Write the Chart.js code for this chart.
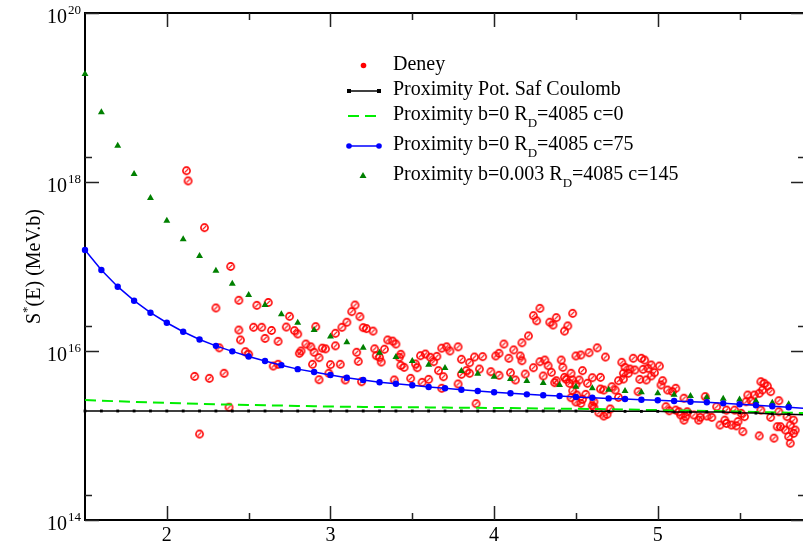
<!DOCTYPE html>
<html>
<head>
<meta charset="utf-8">
<script src="https://cdn.jsdelivr.net/npm/chart.js@4/dist/chart.umd.min.js"></script>
<style>
  html, body { margin: 0; padding: 0; background: #fff; }
  #wrap { width: 803px; height: 551px; }
</style>
</head>
<body>
<div id="wrap"><canvas id="chart" width="803" height="551"></canvas></div>
<script>
// model grid (E, step 0.1)
const gridX = [1.5,1.6,1.7,1.8,1.9,2.0,2.1,2.2,2.3,2.4,2.5,2.6,2.7,2.8,2.9,3.0,3.1,3.2,3.3,3.4,
  3.5,3.6,3.7,3.8,3.9,4.0,4.1,4.2,4.3,4.4,4.5,4.6,4.7,4.8,4.9,5.0,5.1,5.2,5.3,5.4,5.5,5.6,5.7,5.8,5.9];

const safCoulomb = [1.95e15,1.95e15,1.95e15,1.95e15,1.95e15,1.95e15,1.95e15,1.95e15,1.95e15,1.95e15,
  1.95e15,1.95e15,1.95e15,1.95e15,1.95e15,1.95e15,1.95e15,1.95e15,1.95e15,1.95e15,
  1.95e15,1.95e15,1.95e15,1.95e15,1.95e15,1.95e15,1.95e15,1.95e15,1.95e15,1.95e15,
  1.95e15,1.93e15,1.93e15,1.93e15,1.93e15,1.93e15,1.90e15,1.90e15,1.90e15,1.90e15,
  1.86e15,1.84e15,1.80e15,1.78e15,1.76e15];

const proxC0 = [2.63e15,2.58e15,2.54e15,2.50e15,2.46e15,2.43e15,2.40e15,2.37e15,2.34e15,2.32e15,
  2.30e15,2.28e15,2.26e15,2.24e15,2.22e15,2.20e15,2.19e15,2.18e15,2.17e15,2.165e15,
  2.16e15,2.15e15,2.14e15,2.13e15,2.125e15,2.12e15,2.11e15,2.10e15,2.09e15,2.08e15,
  2.07e15,2.06e15,2.04e15,2.03e15,2.01e15,2.00e15,1.98e15,1.97e15,1.95e15,1.94e15,
  1.92e15,1.90e15,1.88e15,1.86e15,1.84e15];

const proxC75 = [1.57e17,9.1e16,5.77e16,3.94e16,2.84e16,2.16e16,1.69e16,1.37e16,1.15e16,9.9e15,
  8.6e15,7.6e15,6.8e15,6.1e15,5.64e15,5.2e15,4.83e15,4.54e15,4.26e15,4.10e15,
  3.93e15,3.75e15,3.62e15,3.48e15,3.36e15,3.25e15,3.16e15,3.07e15,2.99e15,2.93e15,
  2.86e15,2.80e15,2.75e15,2.70e15,2.65e15,2.61e15,2.56e15,2.51e15,2.47e15,2.40e15,
  2.34e15,2.28e15,2.22e15,2.16e15,2.10e15];

// 1.5 .. 5.8
const proxC145 = [1.90e19,6.68e18,2.69e18,1.24e18,6.47e17,3.49e17,2.10e17,1.33e17,8.9e16,6.25e16,
  4.6e16,3.50e16,2.72e16,2.16e16,1.77e16,1.48e16,1.27e16,1.09e16,9.55e15,8.49e15,
  7.62e15,6.89e15,6.29e15,5.80e15,5.38e15,4.96e15,4.67e15,4.42e15,4.18e15,3.96e15,
  3.78e15,3.62e15,3.48e15,3.36e15,3.25e15,3.16e15,3.04e15,2.93e15,2.83e15,2.73e15,
  2.66e15,2.56e15,2.44e15,2.34e15];

// experimental points (Deney)
const deneyX = [2.12,2.13,2.17,2.20,2.23,2.26,2.30,2.32,2.35,2.38,
  2.39,2.44,2.44,2.45,2.48,2.50,2.53,2.55,2.58,2.60,
  2.62,2.64,2.65,2.68,2.68,2.73,2.75,2.78,2.80,2.81,
  2.82,2.85,2.88,2.89,2.90,2.91,2.93,2.93,2.95,2.97,
  2.99,3.00,3.03,3.03,3.06,3.07,3.09,3.10,3.13,3.15,
  3.16,3.17,3.18,3.19,3.20,3.22,3.26,3.27,3.28,3.30,
  3.31,3.33,3.35,3.38,3.39,3.40,3.42,3.43,3.43,3.45,
  3.49,3.52,3.53,3.55,3.56,3.58,3.60,3.61,3.63,3.65,
  3.66,3.68,3.68,3.69,3.71,3.73,3.78,3.78,3.80,3.80,
  3.83,3.85,3.85,3.88,3.89,3.91,3.93,3.98,4.01,4.03,
  4.03,4.06,4.09,4.10,4.12,4.13,4.16,4.17,4.17,4.19,
  4.21,4.24,4.24,4.26,4.28,4.28,4.30,4.31,4.33,4.34,
  4.35,4.36,4.37,4.38,4.38,4.41,4.42,4.43,4.43,4.44,
  4.45,4.46,4.47,4.47,4.48,4.48,4.48,4.50,4.50,4.50,
  4.505,4.52,4.53,4.53,4.54,4.54,4.56,4.57,4.58,4.60,
  4.60,4.61,4.61,4.63,4.64,4.65,4.65,4.67,4.67,4.68,
  4.69,4.71,4.72,4.74,4.76,4.76,4.78,4.79,4.79,4.80,
  4.82,4.83,4.85,4.86,4.88,4.89,4.90,4.91,4.92,4.93,
  4.94,4.96,4.96,4.98,5.01,5.02,5.03,5.05,5.07,5.09,
  5.11,5.11,5.14,5.16,5.16,5.18,5.22,5.26,5.29,5.30,
  5.33,5.36,5.38,5.41,5.42,5.45,5.47,5.48,5.49,5.51,
  5.52,5.54,5.55,5.57,5.62,5.62,5.63,5.63,5.64,5.65,
  5.67,5.69,5.69,5.71,5.73,5.74,5.75,5.78,5.80,5.81,
  5.81,5.83,5.84,5.06,5.13,5.17,5.25,5.42,5.53,5.59,
  5.74,5.79,5.83];
const deneyY = [1.36e18,1.03e18,5.0e15,1.04e15,2.88e17,4.75e15,3.23e16,1.09e16,5.45e15,2.16e15,
  1.0e17,3.98e16,1.77e16,1.35e16,9.8e15,9.14e15,1.91e16,3.47e16,1.91e16,1.41e16,
  3.75e16,1.75e16,6.64e15,1.30e16,6.96e15,1.92e16,2.57e16,1.74e16,1.59e16,9.4e15,
  1.0e16,1.21e16,1.12e16,6.96e15,9.66e15,1.94e16,4.57e15,8.34e15,1.08e16,1.06e16,
  5.45e15,6.89e15,1.62e16,1.15e16,6.96e15,1.91e16,4.54e15,2.19e16,2.92e16,3.50e16,
  9.66e15,7.55e15,2.55e16,4.33e15,1.89e16,1.84e16,1.72e16,1.06e16,8.80e15,8.42e15,
  7.41e15,1.05e16,1.35e16,1.31e16,4.54e15,1.21e16,8.42e15,9.14e15,6.77e15,6.41e15,
  4.75e15,7.02e15,6.34e15,8.80e15,4.26e15,9.21e15,4.62e15,8.42e15,7.47e15,8.65e15,
  5.85e15,3.62e15,1.08e16,4.96e15,1.12e16,1.0e16,4.07e15,1.12e16,7.98e15,5.30e15,
  5.85e15,5.45e15,7.27e15,8.49e15,2.38e15,6.12e15,8.57e15,5.69e15,8.73e15,9.4e15,
  5.16e15,1.21e16,8.20e15,5.53e15,1.03e16,4.54e15,8.73e15,1.25e16,7.67e15,5.34e15,
  1.51e16,2.62e16,6.34e15,2.28e16,7.47e15,3.20e16,5.06e15,7.82e15,6.70e15,2.19e16,
  5.60e15,2.03e16,4.22e15,2.48e16,4.45e15,7.82e15,6.41e15,4.88e15,1.72e16,4.62e15,
  1.98e16,4.15e15,2.80e15,5.45e15,4.54e15,3.39e15,2.79e16,4.03e15,8.73e15,2.49e15,
  3.01e15,4.54e15,8.97e15,2.40e15,5.85e15,2.68e15,3.07e15,4.15e15,9.55e15,4.83e15,
  2.25e15,2.51e15,2.16e15,1.09e16,1.86e15,3.55e15,4.88e15,1.70e15,3.45e15,8.49e15,
  1.78e15,2.06e15,3.78e15,3.45e15,4.45e15,2.83e15,7.35e15,5.45e15,4.66e15,6.41e15,
  5.45e15,6.12e15,8.20e15,5.96e15,3.30e15,4.62e15,8.20e15,6.07e15,7.82e15,4.54e15,
  6.24e15,5.06e15,6.83e15,5.53e15,6.64e15,3.96e15,4.45e15,2.19e15,1.96e15,3.30e15,
  3.62e15,2.00e15,1.75e15,1.52e15,2.76e15,1.91e15,1.75e15,1.64e15,2.88e15,1.70e15,
  1.64e15,2.19e15,1.33e15,1.52e15,2.00e15,1.33e15,2.00e15,1.30e15,1.46e15,1.83e15,
  1.11e15,2.51e15,3.01e15,2.58e15,3.16e15,0.99e15,4.33e15,2.00e15,3.45e15,4.15e15,
  3.85e15,3.30e15,1.64e15,0.93e15,1.27e15,2.58e15,1.27e15,1.16e15,0.97e15,0.81e15,
  1.33e15,1.52e15,1.16e15,3.45e15,1.91e15,1.67e15,1.52e15,1.39e15,1.67e15,3.01e15,
  1.91e15,1.67e15,1.06e15];

const xTicks = [2, 3, 4, 5];
const xMinorTicks = [2.5, 3.5, 4.5, 5.5];
const yTickExps = [14, 16, 18, 20];
const yMinorTicks = [2e14, 2e16, 2e18];
const xFrameMax = 5.9;

const serif = '"Liberation Serif", "Times New Roman", serif';

// red hatched circle used for the Deney points
function deneyMarker() {
    const c = document.createElement("canvas");
    c.width = 11; c.height = 11;
    const g = c.getContext("2d");
    g.strokeStyle = "#ff0000";
    g.lineWidth = 1.6;
    g.beginPath();
    g.arc(5.5, 5.5, 3.6, 0, Math.PI * 2);
    g.stroke();
    g.lineWidth = 1.2;
    g.beginPath();
    g.moveTo(3.6, 7.4);
    g.lineTo(7.4, 3.6);
    g.stroke();
    return c;
}

const pairs = (xs, ys) => ys.map((v, i) => ({ x: xs[i], y: v }));

// frame, ticks, tick labels, axis title and legend
const decorations = {
    id: "decorations",
    beforeDatasetsDraw(chart) {
        const { ctx, chartArea: a, scales: { x, y } } = chart;
        const right = x.getPixelForValue(xFrameMax);
        ctx.save();
        ctx.strokeStyle = "#000";
        ctx.lineWidth = 2;
        ctx.beginPath();
        ctx.moveTo(right, a.top);
        ctx.lineTo(a.left, a.top);
        ctx.lineTo(a.left, a.bottom);
        ctx.lineTo(right, a.bottom);
        ctx.stroke();

        ctx.strokeStyle = "#222";
        ctx.lineWidth = 1.5;
        ctx.beginPath();
        xTicks.forEach(v => {
            const px = Math.round(x.getPixelForValue(v)) + 0.5;
            ctx.moveTo(px, a.bottom); ctx.lineTo(px, a.bottom - 14);
            ctx.moveTo(px, a.top); ctx.lineTo(px, a.top + 14);
        });
        xMinorTicks.forEach(v => {
            const px = Math.round(x.getPixelForValue(v)) + 0.5;
            ctx.moveTo(px, a.bottom); ctx.lineTo(px, a.bottom - 7);
            ctx.moveTo(px, a.top); ctx.lineTo(px, a.top + 7);
        });
        yTickExps.forEach(e => {
            const py = Math.round(y.getPixelForValue(Math.pow(10, e))) + 0.5;
            ctx.moveTo(a.left, py); ctx.lineTo(a.left + 14, py);
            ctx.moveTo(right, py); ctx.lineTo(right - 14, py);
        });
        yMinorTicks.forEach(v => {
            const py = Math.round(y.getPixelForValue(v)) + 0.5;
            ctx.moveTo(a.left, py); ctx.lineTo(a.left + 7, py);
            ctx.moveTo(right, py); ctx.lineTo(right - 7, py);
        });
        ctx.stroke();
        ctx.restore();
    },
    afterDraw(chart) {
        const { ctx, chartArea: a, scales: { x, y } } = chart;
        ctx.save();
        ctx.fillStyle = "#000";
        ctx.textBaseline = "alphabetic";

        // x tick labels
        ctx.font = "20px " + serif;
        ctx.textAlign = "center";
        xTicks.forEach(v => ctx.fillText(String(v), x.getPixelForValue(v), a.bottom + 21));

        // y tick labels 10^n
        yTickExps.forEach(e => {
            const py = y.getPixelForValue(Math.pow(10, e));
            ctx.font = "20px " + serif;
            ctx.textAlign = "right";
            ctx.fillText("10", 67, py + 10);
            ctx.font = "13px " + serif;
            ctx.textAlign = "left";
            ctx.fillText(String(e), 68, py + 1);
        });

        // y axis title
        ctx.save();
        ctx.translate(40, (a.top + a.bottom) / 2);
        ctx.rotate(-Math.PI / 2);
        ctx.font = "20px " + serif;
        const wS = ctx.measureText("S").width;
        const wRest = ctx.measureText("(E) (MeV.b)").width;
        ctx.font = "13px " + serif;
        const wStar = ctx.measureText("*").width;
        let tx = -(wS + wStar + wRest) / 2;
        ctx.textAlign = "left";
        ctx.font = "20px " + serif;
        ctx.fillText("S", tx, 0);
        tx += wS;
        ctx.font = "13px " + serif;
        ctx.fillText("*", tx, -9);
        tx += wStar;
        ctx.font = "20px " + serif;
        ctx.fillText("(E) (MeV.b)", tx, 0);
        ctx.restore();

        // legend
        const items = [
            { kind: "deney", base: 69.5, text: [["Deney"]] },
            { kind: "saf", base: 95, text: [["Proximity Pot. Saf Coulomb"]] },
            { kind: "c0", base: 120, text: [["Proximity b=0 R"], ["D", 1], ["=4085 c=0"]] },
            { kind: "c75", base: 150, text: [["Proximity b=0 R"], ["D", 1], ["=4085 c=75"]] },
            { kind: "c145", base: 179.5, text: [["Proximity b=0.003 R"], ["D", 1], ["=4085 c=145"]] }
        ];
        items.forEach(it => {
            const sy = it.base - 4;
            ctx.save();
            if (it.kind === "deney") {
                ctx.fillStyle = "#ff0000";
                ctx.beginPath(); ctx.arc(363.5, sy, 2.8, 0, Math.PI * 2); ctx.fill();
            } else if (it.kind === "saf") {
                ctx.strokeStyle = "#000"; ctx.lineWidth = 1.5;
                ctx.beginPath(); ctx.moveTo(349, sy); ctx.lineTo(379, sy); ctx.stroke();
                ctx.fillStyle = "#000";
                ctx.fillRect(347, sy - 2, 4, 4); ctx.fillRect(377, sy - 2, 4, 4);
            } else if (it.kind === "c0") {
                ctx.strokeStyle = "#00ee00"; ctx.lineWidth = 2;
                ctx.setLineDash([11, 6]);
                ctx.beginPath(); ctx.moveTo(348, sy); ctx.lineTo(378, sy); ctx.stroke();
            } else if (it.kind === "c75") {
                ctx.strokeStyle = "#0000ff"; ctx.lineWidth = 1.5;
                ctx.beginPath(); ctx.moveTo(349, sy); ctx.lineTo(379, sy); ctx.stroke();
                ctx.fillStyle = "#0000ff";
                ctx.beginPath(); ctx.arc(349, sy, 2.8, 0, Math.PI * 2); ctx.fill();
                ctx.beginPath(); ctx.arc(379, sy, 2.8, 0, Math.PI * 2); ctx.fill();
            } else {
                ctx.fillStyle = "#008000";
                ctx.beginPath();
                ctx.moveTo(363, sy - 3.5); ctx.lineTo(366.5, sy + 2.5); ctx.lineTo(359.5, sy + 2.5);
                ctx.closePath(); ctx.fill();
            }
            ctx.restore();

            let tx = 393;
            it.text.forEach(([t, sub]) => {
                ctx.font = (sub ? "13px " : "20px ") + serif;
                ctx.textAlign = "left";
                ctx.fillText(t, tx, it.base + (sub ? 7 : 0));
                tx += ctx.measureText(t).width;
            });
        });
        ctx.restore();
    }
};

new Chart(document.getElementById("chart"), {
    type: "scatter",
    data: {
        datasets: [
            {
                label: "Proximity Pot. Saf Coulomb",
                data: pairs(gridX, safCoulomb),
                showLine: true,
                borderColor: "#000",
                borderWidth: 1.5,
                pointStyle: "rect",
                pointRadius: 2,
                pointBackgroundColor: "#000",
                pointBorderWidth: 0
            },
            {
                label: "Proximity b=0 RD=4085 c=0",
                data: pairs(gridX, proxC0),
                showLine: true,
                borderColor: "#00ee00",
                borderWidth: 2,
                borderDash: [11, 6],
                pointRadius: 0
            },
            {
                label: "Proximity b=0 RD=4085 c=75",
                data: pairs(gridX, proxC75),
                showLine: true,
                borderColor: "#0000ff",
                borderWidth: 1.5,
                pointRadius: 3.2,
                pointBackgroundColor: "#0000ff",
                pointBorderWidth: 0
            },
            {
                label: "Proximity b=0.003 RD=4085 c=145",
                data: pairs(gridX.slice(0, proxC145.length), proxC145),
                showLine: false,
                pointStyle: "triangle",
                pointRadius: 4,
                pointBackgroundColor: "#008000",
                pointBorderColor: "#008000",
                pointBorderWidth: 0
            },
            {
                label: "Deney",
                data: pairs(deneyX, deneyY),
                showLine: false,
                pointStyle: deneyMarker()
            }
        ]
    },
    options: {
        responsive: false,
        animation: false,
        devicePixelRatio: 1,
        clip: false,
        layout: { padding: { left: 85, top: 13, right: 0, bottom: 31 } },
        scales: {
            x: { type: "linear", min: 1.5, max: 5.857, display: false },
            y: { type: "logarithmic", min: 1e14, max: 1e20, display: false }
        },
        plugins: {
            legend: { display: false },
            tooltip: { enabled: false }
        }
    },
    plugins: [decorations]
});
</script>
</body>
</html>
